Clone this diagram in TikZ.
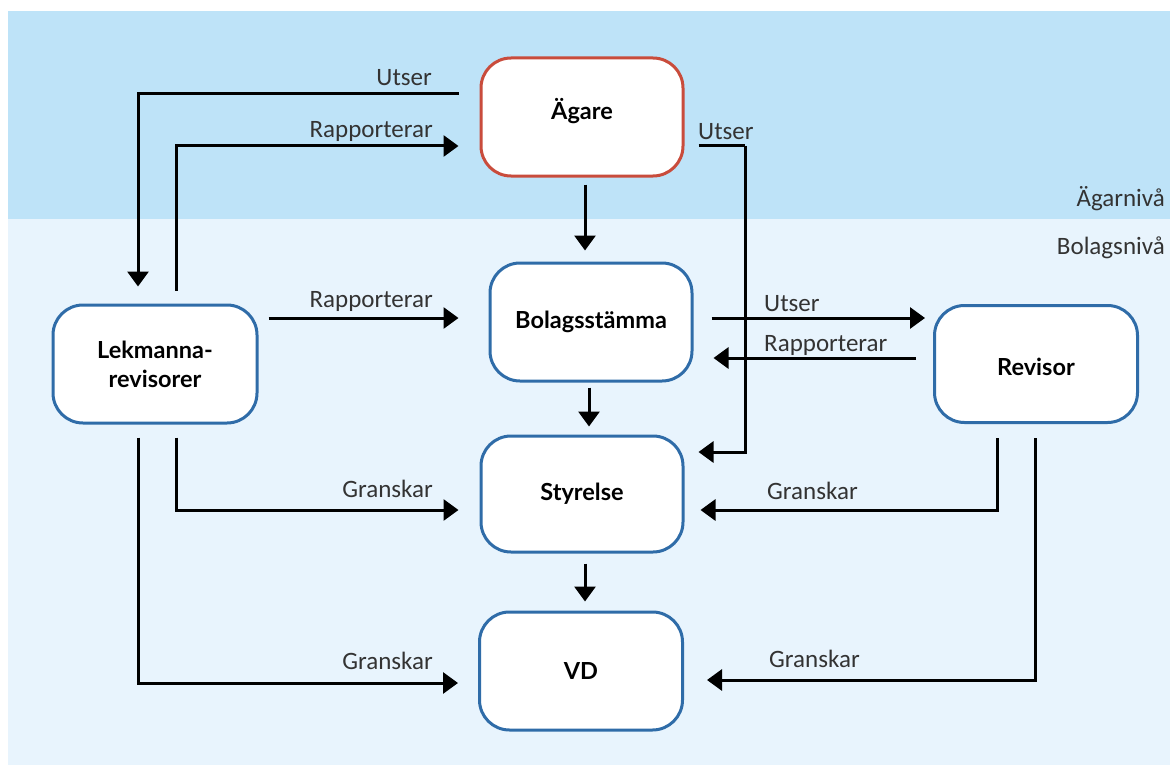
\documentclass[tikz,border=0pt]{standalone}
\usepackage{fontspec}
\setmainfont{Carlito}
\newfontfamily\boxfont{Lato}
\usetikzlibrary{calc}
\usetikzlibrary{arrows.meta}

\definecolor{topband}{HTML}{BEE3F8}
\definecolor{lowband}{HTML}{E8F4FD}
\definecolor{boxblue}{HTML}{2F6CA8}
\definecolor{boxred}{HTML}{C94C3C}
\definecolor{labelgray}{HTML}{333333}

\tikzset{
  box/.style={draw=boxblue, line width=3pt, fill=white, rounded corners=30pt,
    minimum width=202pt, minimum height=118pt, align=center,
    font=\boxfont\bfseries\fontsize{23.5}{29}\selectfont},
  ownerbox/.style={box, draw=boxred},
  line/.style={line width=3pt, black},
  arr/.style={line, -{Triangle[length=15pt,width=21pt]}},
  lbl/.style={text=labelgray, inner sep=0pt, font=\fontsize{25}{28}\selectfont},
}

\begin{document}
\begin{tikzpicture}[x=1pt,y=-1pt]
            % Fix the page size
            \useasboundingbox (0,0) rectangle (1170,765);

            % Draw the two levels
            \fill[topband] (8,11) rectangle (1170,219);
            \fill[lowband] (8,219) rectangle (1170,765);
            \node[lbl, anchor=east] (agarniva) at (1165,199) {Ägarnivå};
            \node[lbl, anchor=east] (bolagsniva) at (1165,248) {Bolagsnivå};

            % Draw the boxes
            \node[ownerbox] (agare) at (582,117) {\raisebox{6pt}[\height][\depth]{Ägare}};
            \node[box] (stamma) at (591,322) {Bolagsstämma};
            \node[box, minimum width=204pt] (lekman) at (155,364) {Lekmanna-\\revisorer};
            \node[box, minimum width=203pt, minimum height=117pt] (revisor) at (1036,364) {\raisebox{-3pt}[\height][\depth]{Revisor}};
            \node[box, minimum height=116pt] (styrelse) at (582,494) {Styrelse};
            \node[box, minimum width=203pt] (vd) at (581,671) {VD};

            % Bend points
            \coordinate (utserbend) at (745,146);

            % Draw the owner level connectors
            \draw[arr] ($(agare.west)+(-21,-23)$) -| ($(lekman.north)+(-17,-17)$);
            \draw[arr] ($(lekman.north)+(21,-13)$) |- ($(agare.west)+(-21,29)$);
            \draw[line] ($(agare.east)+(14,29)$) -- (utserbend);
            \draw[arr] (utserbend) |- ($(styrelse.east)+(14,-42)$);
            \draw[arr] ($(agare.south)+(3,7)$) -- ($(stamma.north)+(-6,-11)$);

            \node[lbl, anchor=south east] (utser1) at (432,86) {Utser};
            \node[lbl, anchor=south east] (rapp1) at (433,142) {Rapporterar};
            \node[lbl, anchor=south west] (utser2) at (698,140) {Utser};

            % Draw the company level connectors
            \draw[arr] ($(lekman.east)+(10,-46)$) -- ($(stamma.west)+(-30,-4)$);
            \draw[arr] ($(stamma.east)+(18,-4)$) -- ($(revisor.west)+(-8,-46)$);
            \draw[arr] ($(revisor.west)+(-17,-6)$) -- ($(stamma.east)+(20,36)$);
            \draw[arr] ($(stamma.south)+(-2,5)$) -- ($(styrelse.north)+(7,-8)$);
            \draw[arr] ($(styrelse.south)+(3,10)$) -- ($(vd.north)+(4,-9)$);

            \node[lbl, anchor=south east] (rapp2) at (433,312) {Rapporterar};
            \node[lbl, anchor=south west] (utser3) at (764,312) {Utser};
            \node[lbl, anchor=south west] (rapp3) at (764,356) {Rapporterar};

            % Draw the audit connectors
            \draw[arr] ($(lekman.south)+(21,13)$) |- ($(styrelse.west)+(-21,16)$);
            \draw[arr] ($(lekman.south)+(-17,13)$) |- ($(vd.west)+(-20,12)$);
            \draw[arr] ($(revisor.south)+(-39,14)$) |- ($(styrelse.east)+(16,16)$);
            \draw[arr] ($(revisor.south)+(-1,14)$) |- ($(vd.east)+(23,9)$);

            \node[lbl, anchor=south east] (gran1) at (433,498) {Granskar};
            \node[lbl, anchor=south east] (gran2) at (433,670) {Granskar};
            \node[lbl, anchor=south west] (gran3) at (767,500) {Granskar};
            \node[lbl, anchor=south west] (gran4) at (769,668) {Granskar};
\end{tikzpicture}
\end{document}
